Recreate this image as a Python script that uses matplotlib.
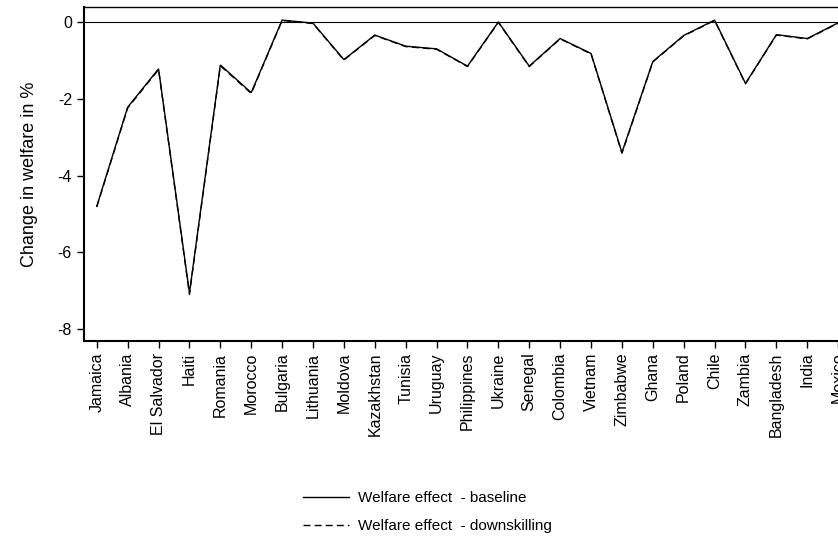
import matplotlib
matplotlib.use("Agg")
import matplotlib.pyplot as plt
from matplotlib.lines import Line2D

plt.rcParams['font.family'] = ['Liberation Sans', 'DejaVu Sans']

countries = ["Jamaica", "Albania", "El Salvador", "Haiti", "Romania", "Morocco",
             "Bulgaria", "Lithuania", "Moldova", "Kazakhstan", "Tunisia", "Uruguay",
             "Philippines", "Ukraine", "Senegal", "Colombia", "Vietnam", "Zimbabwe",
             "Ghana", "Poland", "Chile", "Zambia", "Bangladesh", "India", "Mexico"]
baseline = [-4.80, -2.22, -1.22, -7.06, -1.12, -1.84, 0.05, -0.03, -0.98, -0.34,
            -0.63, -0.70, -1.15, 0.00, -1.15, -0.43, -0.82, -3.40, -1.03, -0.35,
            0.05, -1.60, -0.33, -0.43, -0.02]
downskilling = [-4.82, -2.24, -1.24, -7.10, -1.14, -1.86, 0.04, -0.04, -0.99, -0.35,
                -0.64, -0.71, -1.16, -0.01, -1.16, -0.44, -0.83, -3.42, -1.04, -0.36,
                0.04, -1.61, -0.34, -0.44, -0.03]

fig = plt.figure(figsize=(8.38, 5.42), dpi=100)
ax = fig.add_axes([0.1, 0.371, 0.905, 0.616])
x = range(len(countries))
ax.plot(x, baseline, color="black", lw=1.0, solid_joinstyle="miter")
ax.plot(x, downskilling, color="black", lw=1.0, ls=(0, (5, 3)))
ax.axhline(0, color="black", lw=0.8)

ax.set_xlim(-0.42, 24.13)
ax.set_ylim(-8.31, 0.39)
ax.set_yticks([0, -2, -4, -6, -8])
ax.set_yticklabels(["0", "-2", "-4", "-6", "-8"])
ax.set_xticks(list(x))
ax.set_xticklabels(countries, rotation=90, fontsize=11.5)
ax.tick_params(axis="y", labelsize=11.5, length=5, width=1)
ax.tick_params(axis="x", length=5, width=1)
ax.set_ylabel("Change in welfare in %", fontsize=13, labelpad=14)
for s in ["left", "bottom"]:
    ax.spines[s].set_linewidth(1.5)
ax.spines["top"].set_linewidth(1.0)
ax.spines["right"].set_visible(False)

handles = [Line2D([], [], color="black", lw=1.0),
           Line2D([], [], color="black", lw=1.0, ls=(0, (5, 3)))]
fig.legend(handles, ["Welfare effect  - baseline", "Welfare effect  - downskilling"],
           loc="center", bbox_to_anchor=(0.51, 0.055), frameon=False, fontsize=11,
           handlelength=3.0, handletextpad=0.6, labelspacing=0.9)

fig.savefig("out.png", dpi=100)
